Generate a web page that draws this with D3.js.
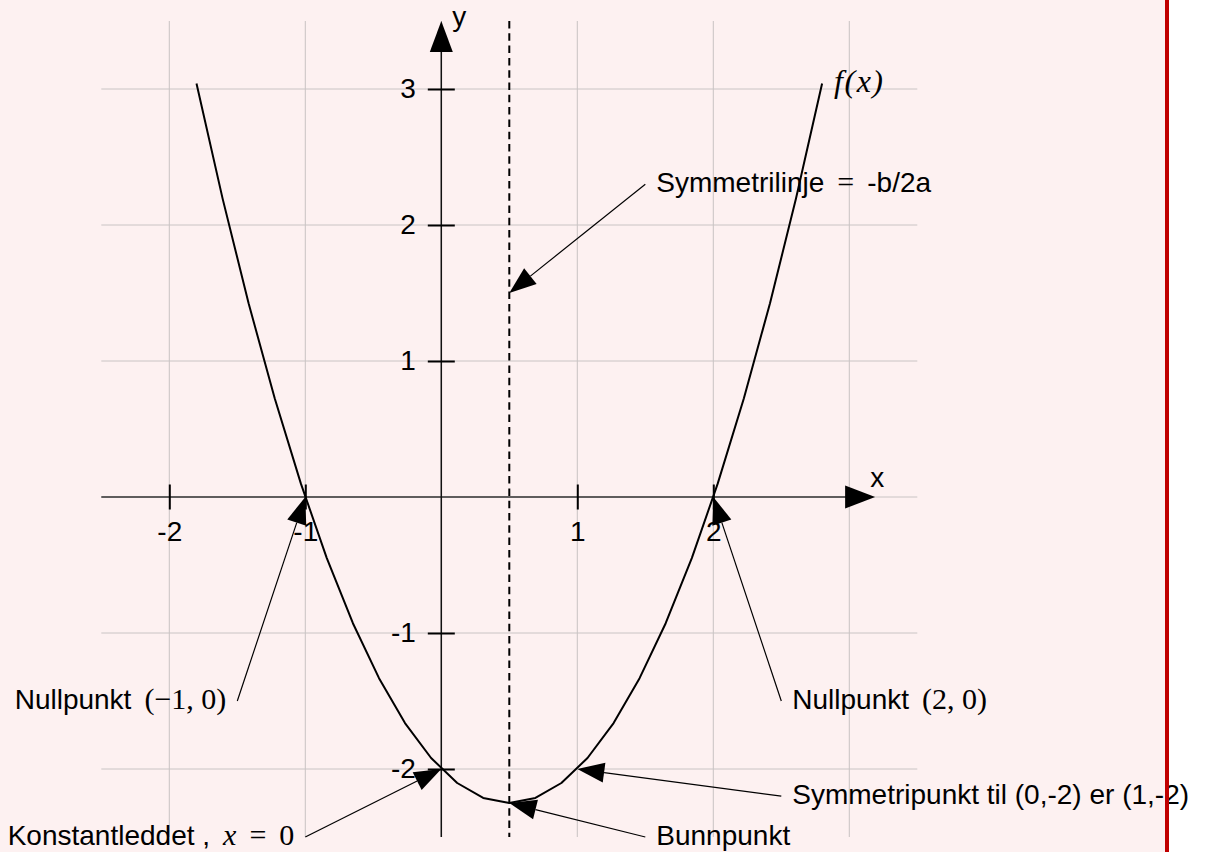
<!DOCTYPE html>
<html lang="no">
<head>
  <meta charset="UTF-8">
  <title>f(x) = x^2 - x - 2</title>
  <style>
    * {
      padding: 0;
      margin: 0;
    }
    body { background: #fff; }
    svg { display: block; }
  </style>
</head>
<body>
  <script src="https://d3js.org/d3.v7.min.js"></script>
  <script>
    const width = 1208;
    const height = 852;

    // sampled points of the plotted curve (25 samples, -1.8 .. 2.8)
    const curveX = [-1.8, -1.608, -1.417, -1.225, -1.033, -0.842, -0.65, -0.458, -0.267, -0.075,
      0.117, 0.308, 0.5, 0.692, 0.883, 1.075, 1.267, 1.458, 1.65, 1.842, 2.033, 2.225, 2.417, 2.608, 2.8];
    const curveY = [3.04, 2.194, 1.425, 0.726, 0.1, -0.449, -0.928, -1.332, -1.662, -1.919,
      -2.103, -2.213, -2.25, -2.213, -2.103, -1.919, -1.662, -1.332, -0.928, -0.449, 0.1, 0.726, 1.425, 2.194, 3.04];

    const gridValues = [-2, -1, 0, 1, 2, 3];
    const gridExtent = [-2.5, 3.5];
    const xTickValues = [-2, -1, 1, 2];
    const xTickLabels = ['-2', '-1', '1', '2'];
    const yTickValues = [3, 2, 1, -1, -2];
    const yTickLabels = ['3', '2', '1', '-1', '-2'];
    const xAxisExtent = [-2.5, 3.19];
    const yAxisExtent = [-2.5, 3.5];
    const symmetryX = 0.5;

    // annotations: [text, s=sans / m=math / i=math italic, extra gap before]
    const labelParts = [
      [['Symmetrilinje', 's', 0], ['=', 'm', 6], ['-b/2a', 's', 6]],
      [['Nullpunkt', 's', 0], ['(\u22121, 0)', 'm', 6]],
      [['Nullpunkt', 's', 0], ['(2, 0)', 'm', 6]],
      [['Konstantleddet ,', 's', 0], ['x', 'i', 6], ['=', 'm', 6], ['0', 'm', 6]],
      [['Bunnpunkt', 's', 0]],
      [['Symmetripunkt til (0,-2) er (1,-2)', 's', 0]]
    ];
    const labelX = [1.5, -1.5, 2.5, -1, 1.5, 2.5];
    const labelY = [2.3, -1.5, -1.5, -2.5, -2.5, -2.2];
    const labelSide = ['west', 'east', 'west', 'east', 'west', 'west'];
    const targetX = [0.5, -1, 2, 0, 0.5, 1];
    const targetY = [1.5, 0, 0, -2, -2.25, -2];

    const sans = '"Liberation Sans", Arial, sans-serif';
    const serif = '"Liberation Serif", "Times New Roman", serif';

    const x = d3.scaleLinear().domain([-2.5, 3.5]).range([101.3, 917.3]);
    const y = d3.scaleLinear().domain([-2.5, 3.5]).range([837, 21]);

    const svg = d3.select('body')
      .append('svg')
      .attr('width', width)
      .attr('height', height);

    svg.append('rect')
      .attr('width', 1165)
      .attr('height', height)
      .attr('fill', '#fdf1f1');

    // grid
    const grid = svg.append('g').attr('stroke', '#c9c4c4').attr('stroke-width', 1);
    grid.selectAll('.gv').data(gridValues).join('line')
      .attr('x1', d => x(d)).attr('x2', d => x(d))
      .attr('y1', y(gridExtent[0])).attr('y2', y(gridExtent[1]));
    grid.selectAll('.gh').data(gridValues).join('line')
      .attr('y1', d => y(d)).attr('y2', d => y(d))
      .attr('x1', x(gridExtent[0])).attr('x2', x(gridExtent[1]));

    const arrowHead = (tx, ty, fx, fy, len, hw) => {
      const dx = tx - fx, dy = ty - fy, d = Math.hypot(dx, dy);
      const ux = dx / d, uy = dy / d;
      const bx = tx - ux * len, by = ty - uy * len;
      return [[tx, ty], [bx - uy * hw, by + ux * hw], [bx + uy * hw, by - ux * hw]];
    };

    // axes lines + arrows
    svg.append('line')
      .attr('x1', x(xAxisExtent[0])).attr('x2', x(xAxisExtent[1]) - 20)
      .attr('y1', y(0)).attr('y2', y(0))
      .attr('stroke', '#333').attr('stroke-width', 1.5);
    svg.append('polygon')
      .attr('points', arrowHead(x(xAxisExtent[1]), y(0), x(0), y(0), 30, 11.5).join(' '))
      .attr('fill', '#000');
    svg.append('line')
      .attr('x1', x(0)).attr('x2', x(0))
      .attr('y1', y(yAxisExtent[0])).attr('y2', y(yAxisExtent[1]) + 20)
      .attr('stroke', '#111').attr('stroke-width', 1.5);
    svg.append('polygon')
      .attr('points', arrowHead(x(0), y(yAxisExtent[1]), x(0), y(0), 31, 11.5).join(' '))
      .attr('fill', '#000');

    svg.append('text')
      .attr('x', x(xAxisExtent[1]) - 5).attr('y', y(0) - 10)
      .attr('font-family', sans).attr('font-size', 28)
      .text('x');
    svg.append('text')
      .attr('x', x(0) + 11).attr('y', y(yAxisExtent[1]) + 5)
      .attr('font-family', sans).attr('font-size', 28)
      .text('y');

    // ticks
    const xAxis = d3.axisBottom(x)
      .tickValues(xTickValues)
      .tickFormat((d, i) => xTickLabels[i])
      .tickSize(25)
      .tickPadding(12);
    const gx = svg.append('g')
      .attr('transform', `translate(0,${y(0) - 12.5})`)
      .call(xAxis);

    const yAxis = d3.axisLeft(y)
      .tickValues(yTickValues)
      .tickFormat((d, i) => yTickLabels[i])
      .tickSize(27)
      .tickPadding(12);
    const gy = svg.append('g')
      .attr('transform', `translate(${x(0) + 13.5},0)`)
      .call(yAxis);

    [gx, gy].forEach(g => {
      g.select('.domain').remove();
      g.selectAll('.tick line').attr('stroke', '#000').attr('stroke-width', 2);
      g.selectAll('.tick text')
        .attr('fill', '#000')
        .attr('font-family', sans)
        .attr('font-size', 28);
    });

    // curve
    const line = d3.line()
      .x(d => x(d[0]))
      .y(d => y(d[1]));
    svg.append('path')
      .datum(curveX.map((v, i) => [v, curveY[i]]))
      .attr('d', line)
      .attr('fill', 'none')
      .attr('stroke', '#000')
      .attr('stroke-width', 2)
      .attr('stroke-linejoin', 'round');

    svg.append('text')
      .attr('x', x(curveX[curveX.length - 1]) + 12)
      .attr('y', y(curveY[curveY.length - 1]) + 8)
      .attr('font-family', serif).attr('font-style', 'italic').attr('font-size', 32)
      .attr('letter-spacing', 1.5)
      .text('f(x)');

    // symmetry line
    svg.append('line')
      .attr('x1', x(symmetryX)).attr('x2', x(symmetryX))
      .attr('y1', y(gridExtent[1])).attr('y2', y(gridExtent[0]))
      .attr('stroke', '#000').attr('stroke-width', 2)
      .attr('stroke-dasharray', '7.5,4.8');

    // annotations
    labelParts.forEach((parts, i) => {
      const ax = x(labelX[i]), ay = y(labelY[i]);
      const tx = x(targetX[i]), ty = y(targetY[i]);
      const head = arrowHead(tx, ty, ax, ay, 27, 10);
      const bx = (head[1][0] + head[2][0]) / 2, by = (head[1][1] + head[2][1]) / 2;
      svg.append('line')
        .attr('x1', ax).attr('y1', ay).attr('x2', bx).attr('y2', by)
        .attr('stroke', '#000').attr('stroke-width', 1.2);
      svg.append('polygon')
        .attr('points', head.join(' '))
        .attr('fill', '#000');

      const t = svg.append('text')
        .attr('x', labelSide[i] === 'west' ? ax + 11 : ax - 11)
        .attr('y', ay + 8)
        .attr('text-anchor', labelSide[i] === 'west' ? 'start' : 'end');
      parts.forEach(([s, kind, gap], j) => {
        t.append('tspan')
          .attr('dx', j === 0 ? 0 : gap + 7)
          .attr('font-family', kind === 's' ? sans : serif)
          .attr('font-size', kind === 's' ? 28 : 30)
          .attr('font-style', kind === 'i' ? 'italic' : 'normal')
          .text(s);
      });
    });

    // page edge
    svg.append('rect')
      .attr('x', 1165).attr('y', 0)
      .attr('width', 4).attr('height', height)
      .attr('fill', '#c00000');
  </script>
</body>
</html>
